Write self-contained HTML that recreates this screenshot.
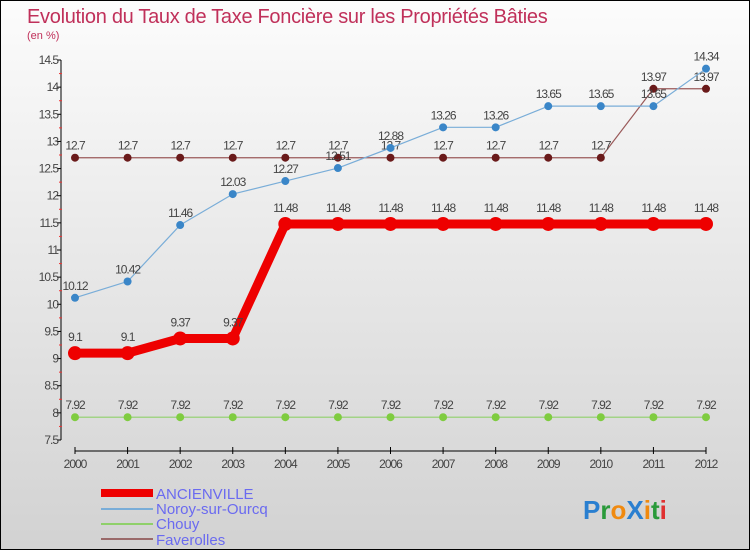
<!DOCTYPE html>
<html><head><meta charset="utf-8"><style>
body{margin:0}
#c{width:748px;height:548px;border:1px solid #000;background:linear-gradient(#fcfcfc,#d2d2d2);position:relative;font-family:"Liberation Sans",sans-serif}
</style></head><body>
<div id="c">
<svg id="s" width="748" height="548" style="position:absolute;left:0;top:0">
<text x="26" y="22" font-size="20" fill="#c0305a" letter-spacing="-0.3">Evolution du Taux de Taxe Foncière sur les Propriétés Bâties</text>
<text x="26" y="38" font-size="11" fill="#c0305a">(en %)</text>
<g id="axes"></g><g id="series"></g>
<g>
<rect x="100" y="488" width="52" height="8" fill="#e00"/>
<text x="155" y="498" font-size="15" fill="#6a6af0">ANCIENVILLE</text>
<line x1="100" y1="508" x2="152" y2="508" stroke="#79add8" stroke-width="2"/>
<text x="155" y="513" font-size="15" fill="#6a6af0">Noroy-sur-Ourcq</text>
<line x1="100" y1="523" x2="152" y2="523" stroke="#8fd06a" stroke-width="2"/>
<text x="155" y="528" font-size="15" fill="#6a6af0">Chouy</text>
<line x1="100" y1="538" x2="152" y2="538" stroke="#9a6a6a" stroke-width="2"/>
<text x="155" y="544" font-size="15" fill="#6a6af0">Faverolles</text>
</g>
<text x="582" y="518" font-size="26" font-weight="bold"><tspan fill="#2a7fd0">P</tspan><tspan fill="#2a9a3a">r</tspan><tspan fill="#f08a10">o</tspan><tspan fill="#2a7fd0">X</tspan><tspan fill="#f08a10">i</tspan><tspan fill="#2a9a3a">t</tspan><tspan fill="#e03030">i</tspan></text>
</svg>
</div>
<script>
const years=[2000,2001,2002,2003,2004,2005,2006,2007,2008,2009,2010,2011,2012];
const yTicks=[7.5,8,8.5,9,9.5,10,10.5,11,11.5,12,12.5,13,13.5,14,14.5];
const ancienville=[9.1,9.1,9.37,9.37,11.48,11.48,11.48,11.48,11.48,11.48,11.48,11.48,11.48];
const noroy=[10.12,10.42,11.46,12.03,12.27,12.51,12.88,13.26,13.26,13.65,13.65,13.65,14.34];
const chouy=[7.92,7.92,7.92,7.92,7.92,7.92,7.92,7.92,7.92,7.92,7.92,7.92,7.92];
const faverolles=[12.7,12.7,12.7,12.7,12.7,12.7,12.7,12.7,12.7,12.7,12.7,13.97,13.97];
const NS="http://www.w3.org/2000/svg";
const X=i=>74+i*(631/12);
const Y=v=>439-(v-7.5)*(380/7);
function mk(t,a,p){const e=document.createElementNS(NS,t);for(const k in a)e.setAttribute(k,a[k]);p.appendChild(e);return e;}
const ax=document.getElementById('axes'),sg=document.getElementById('series');
const yl=mk('line',{x1:60,y1:Y(14.5),x2:60,y2:Y(7.5),stroke:'#000'},ax);


yTicks.forEach(v=>{
 mk('line',{x1:56,x2:60,y1:Y(v),y2:Y(v),stroke:'#000'},ax);
 if(v<14.5) mk('line',{x1:58,x2:61,y1:Y(v+0.25),y2:Y(v+0.25),stroke:'#e33'},ax);
 const t=mk('text',{x:57,y:Y(v)+4,'text-anchor':'end','font-size':12,fill:'#444','letter-spacing':'-1'},ax);
 t.textContent=v;
 
 
});
const xl=mk('line',{x1:X(0),x2:X(12),y1:450,y2:450,stroke:'#000'},ax);


years.forEach((y,i)=>{
 mk('line',{x1:X(i),x2:X(i),y1:446,y2:453,stroke:'#000'},ax);
 const t=mk('text',{x:X(i),y:467,'text-anchor':'middle','font-size':12,fill:'#444','letter-spacing':'-1'},ax);
 t.textContent=y;
 
 
});
function series(d,name,col,dot,w,r){
 const g=mk('g',{},sg);
 
 
 mk('polyline',{points:d.map((v,i)=>X(i)+','+Y(v)).join(' '),fill:'none',stroke:col,'stroke-width':w,'stroke-linejoin':'round'},g);
 d.forEach((v,i)=>{
  const c=mk('circle',{cx:X(i),cy:Y(v),r:r,fill:dot},g);
  
  
  const t=mk('text',{x:X(i),y:Y(v)-8-(r>4?4:0),'text-anchor':'middle','font-size':12,fill:'#444','letter-spacing':'-1'},g);
  t.textContent=v;
  
  
 });
}
series(chouy,'chouy','#8fd06a','#7fcc40',1.2,4);
series(faverolles,'faverolles','#9a5a5a','#6a1a1a',1.2,4);
series(noroy,'noroy','#79add8','#3a86c8',1.2,4);
series(ancienville,'ancienville','#ee0000','#ee0000',9,7);
</script>
</body></html>
